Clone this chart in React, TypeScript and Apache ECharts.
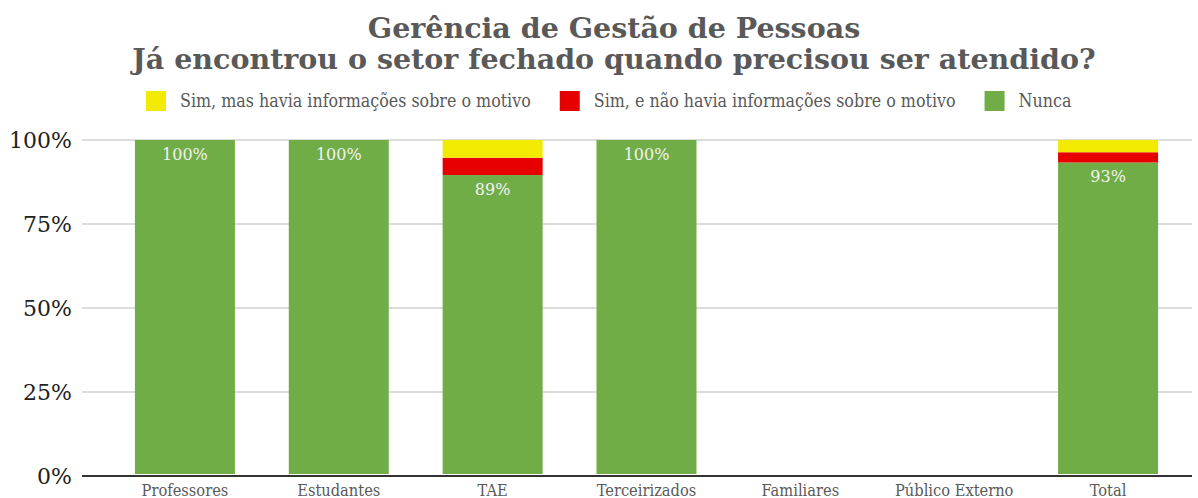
import React, { useEffect, useRef } from "react";
import * as echarts from "echarts";

const categories = ["Professores", "Estudantes", "TAE", "Terceirizados", "Familiares", "Público Externo", "Total"];
const seriesNames = [
  "Sim, mas havia informações sobre o motivo",
  "Sim, e não havia informações sobre o motivo",
  "Nunca",
];
const simComInfo = [0, 0, 5.3, 0, null, null, 3.7];
const simSemInfo = [0, 0, 5.2, 0, null, null, 3.0];
const nunca = [100, 100, 89.5, 100, null, null, 93.3];
const nuncaLabels = ["100%", "100%", "89%", "100%", "", "", "93%"];
const yTicks = [0, 25, 50, 75, 100];

const serifC = "'DejaVu Serif Condensed', 'DejaVu Serif', serif";
const serif = "'DejaVu Serif', serif";

export default function App() {
  const ref = useRef<HTMLDivElement>(null);
  useEffect(() => {
    document.body.style.margin = "0";
    const chart = echarts.init(ref.current!, null, { renderer: "svg" });
    chart.setOption({
      animation: false,
      backgroundColor: "#ffffff",
      title: {
        text: "Gerência de Gestão de Pessoas\nJá encontrou o setor fechado quando precisou ser atendido?",
        left: 609,
        top: 7,
        textAlign: "center",
        textStyle: {
          fontFamily: serif,
          fontWeight: "bold",
          fontSize: 28.5,
          lineHeight: 31,
          color: "#595959",
        },
      },
      legend: {
        data: seriesNames,
        top: 86,
        left: 141,
        itemWidth: 20,
        itemHeight: 20,
        itemGap: 29,
        icon: "rect",
        textStyle: { fontFamily: serifC, fontSize: 17.7, color: "#595959", padding: [0, 0, 0, 9] },
      },
      grid: [
        { left: 82, right: 6, top: 140, bottom: 22, containLabel: false },
        { left: 108, right: 13, top: 140, bottom: 22, containLabel: false },
      ],
      xAxis: [
        {
          gridIndex: 0,
          type: "value",
          show: false,
          min: 0,
          max: 1,
        },
        {
          gridIndex: 1,
          type: "category",
          data: categories,
          axisTick: { show: false },
          axisLine: { show: false },
          axisLabel: { interval: 0, fontFamily: serifC, fontSize: 16.3, color: "#595959", margin: 8 },
        },
      ],
      yAxis: [
        {
          gridIndex: 0,
          type: "value",
          min: 0,
          max: 100,
          interval: 25,
          axisLine: { show: false },
          axisTick: { show: false },
          splitLine: { lineStyle: { color: "#d0d0d0", width: 1.5 } },
          axisLabel: {
            fontFamily: serif,
            fontSize: 22,
            color: "#222222",
            margin: 10,
            formatter: (v: number) => (yTicks.includes(v) ? v + "%" : ""),
          },
        },
        {
          gridIndex: 1,
          type: "value",
          min: 0,
          max: 100,
          interval: 25,
          show: false,
          splitLine: { show: false },
        },
      ],
      series: [
        {
          name: seriesNames[2],
          type: "bar",
          stack: "s",
          xAxisIndex: 1,
          yAxisIndex: 1,
          data: nunca,
          barWidth: "65%",
          itemStyle: { color: "#70ad47" },
          label: {
            show: true,
            position: "insideTop",
            distance: 6,
            fontFamily: serif,
            fontSize: 16,
            color: "#f2f2f2",
            formatter: (p: any) => nuncaLabels[p.dataIndex],
          },
          z: 3,
        },
        {
          name: seriesNames[1],
          type: "bar",
          stack: "s",
          xAxisIndex: 1,
          yAxisIndex: 1,
          data: simSemInfo,
          itemStyle: { color: "#e60000" },
          z: 3,
        },
        {
          name: seriesNames[0],
          type: "bar",
          stack: "s",
          xAxisIndex: 1,
          yAxisIndex: 1,
          data: simComInfo,
          itemStyle: { color: "#f2ea00" },
          z: 3,
        },
        {
          type: "line",
          xAxisIndex: 0,
          yAxisIndex: 0,
          data: [[0, 0], [1, 0]],
          symbol: "none",
          silent: true,
          lineStyle: { color: "#333333", width: 2 },
          z: 5,
        },
      ],
    });
    return () => chart.dispose();
  }, []);
  return <div ref={ref} style={{ width: 1198, height: 498 }} />;
}
